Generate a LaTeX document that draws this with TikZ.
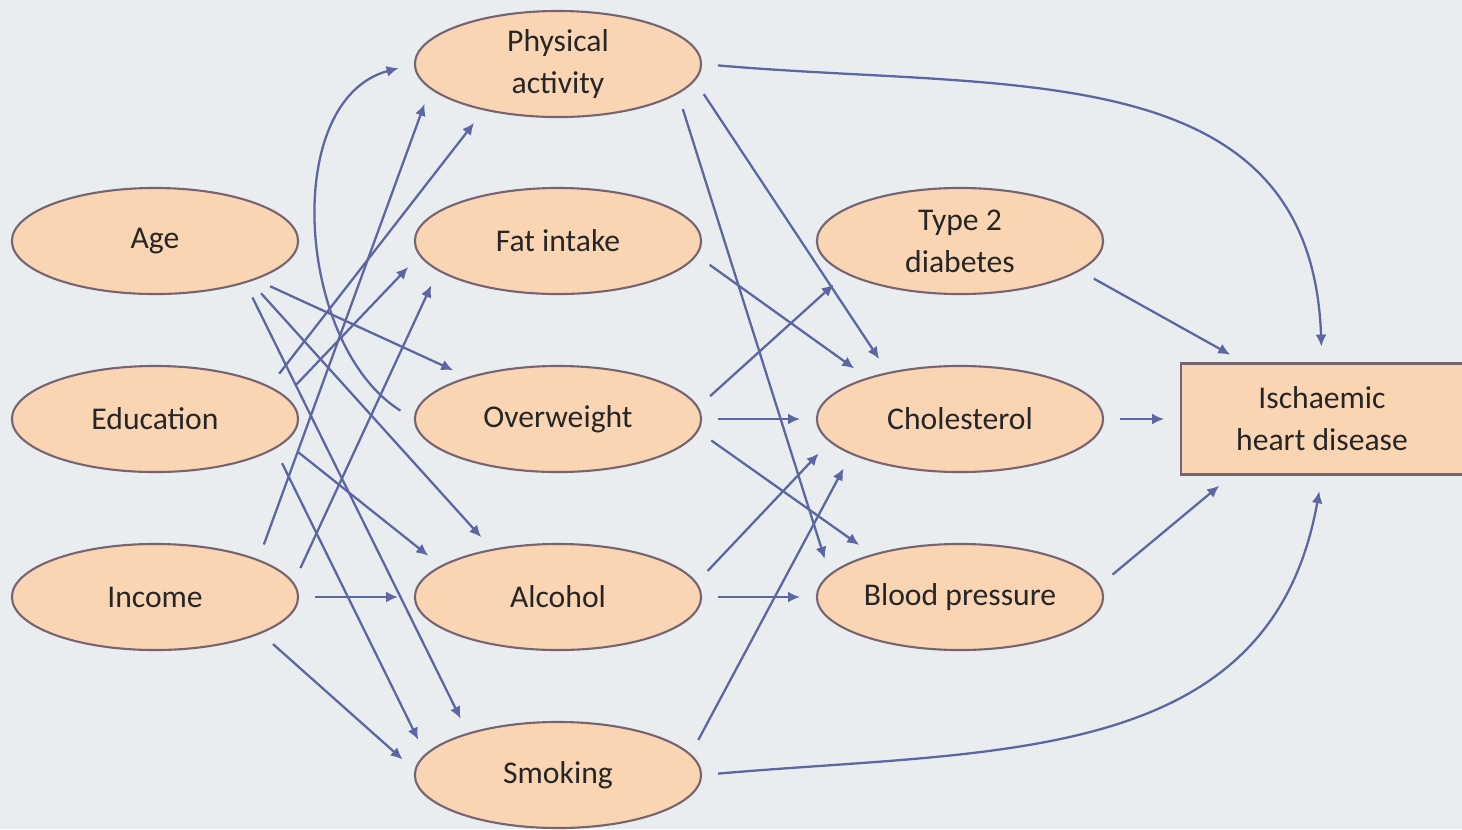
\documentclass[tikz,border=0pt]{standalone}
\usepackage{fontspec}
\setmainfont{Carlito}
\usetikzlibrary{arrows.meta,shapes.geometric}
\definecolor{bgcol}{RGB}{233,237,240}
\definecolor{peach}{RGB}{250,213,180}
\definecolor{rim}{RGB}{118,100,112}
\definecolor{linkcol}{RGB}{92,102,162}

\begin{document}
\begin{tikzpicture}[x=0.01cm,y=0.01cm,
  risk/.style={draw=rim,line width=0.6pt,fill=peach,ellipse,minimum width=2.86cm,minimum height=1.06cm,
    inner sep=0pt,align=center,text=black!85,font=\fontsize{9}{12}\selectfont},
  outcome/.style={draw=rim,line width=0.6pt,fill=peach,rectangle,minimum width=2.82cm,minimum height=1.11cm,
    inner sep=0pt,align=center,text=black!85,font=\fontsize{9}{12}\selectfont},
  link/.style={-{Latex[length=1.2mm,width=1.1mm]},line width=0.65pt,linkcol,shorten <=4.5pt,shorten >=4.5pt}]
  \useasboundingbox[fill=bgcol] (0,0) rectangle (1462,-829);

  \node[risk] (phys) at (558,-64) {Physical\\activity};
  \node[risk] (age) at (155,-241) {Age};
  \node[risk] (fat) at (558,-241) {Fat intake};
  \node[risk] (t2d) at (960,-241) {Type 2\\diabetes};
  \node[risk] (edu) at (155,-419) {Education};
  \node[risk] (ovw) at (558,-419) {Overweight};
  \node[risk] (chol) at (960,-419) {Cholesterol};
  \node[outcome] (ihd) at (1322,-419) {Ischaemic\\heart disease};
  \node[risk] (inc) at (155,-597) {Income};
  \node[risk] (alc) at (558,-597) {Alcohol};
  \node[risk] (bp) at (960,-597) {Blood pressure};
  \node[risk] (smk) at (558,-775) {Smoking};

  % background factors to behaviours
  \draw[link] (age.-21) -- (ovw.155);
  \draw[link] (age.-23) -- (alc.144);
  \draw[link] (age.-25) -- (smk.155);
  \draw[link] (edu.16) -- (phys.212);
  \draw[link] (edu.10) -- (fat.186);
  \draw[link] (edu.-10) -- (alc.165);
  \draw[link] (edu.-14) -- (smk.171);
  \draw[link] (inc.20) -- (phys.191);
  \draw[link] (inc.6) -- (fat.194);
  \draw[link] (inc.east) -- (alc.west);
  \draw[link] (inc.-19) -- (smk.178);
  \draw[link] (ovw.west) to[out=148,in=195] (phys.west);

  % behaviours to physiological factors
  \draw[link] (phys.-7) -- (chol.147);
  \draw[link] (phys.-14) -- (bp.170);
  \draw[link] (fat.-6) -- (chol.156);
  \draw[link] (ovw.5) -- (t2d.196);
  \draw[link] (ovw.east) -- (chol.west);
  \draw[link] (ovw.-5) -- (bp.154);
  \draw[link] (alc.6) -- (chol.190);
  \draw[link] (alc.east) -- (bp.west);
  \draw[link] (smk.9) -- (chol.198);

  % everything that reaches the outcome
  \draw[link] (phys.east) to[out=-5,in=92,looseness=1.15] (ihd.north);
  \draw[link] (smk.east) to[out=5,in=-100,looseness=1.1] (ihd.south);
  \draw[link] (t2d.-14) -- (ihd.144);
  \draw[link] (chol.east) -- (ihd.west);
  \draw[link] (bp.5) -- (ihd.212);
\end{tikzpicture}
\end{document}
